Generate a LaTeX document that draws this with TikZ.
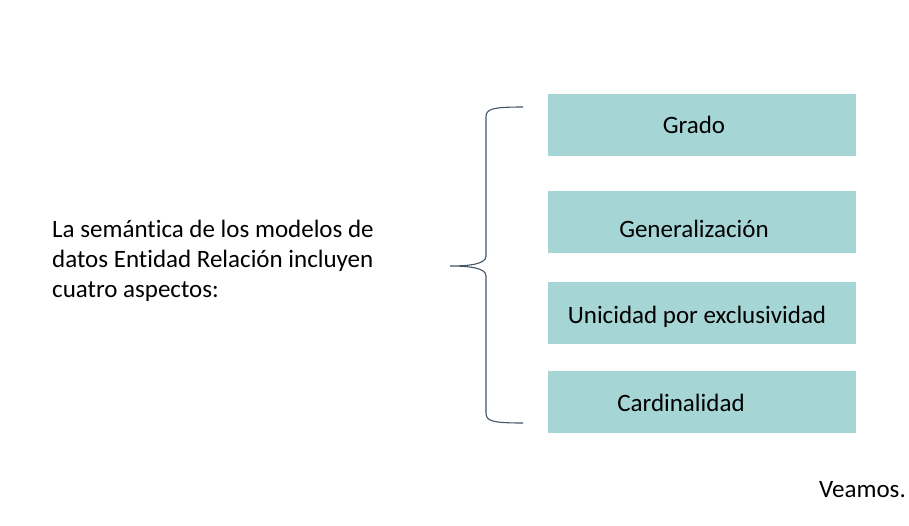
\documentclass[tikz,border=0pt]{standalone}
\usepackage{fontspec}
\setmainfont[Ligatures={NoCommon}]{Carlito}
\definecolor{aqua}{HTML}{A5D5D5}
\definecolor{slate}{HTML}{44546A}
\tikzset{
  aspect/.style={fill=aqua, draw=none, minimum width=308pt, minimum height=62pt, inner sep=0pt},
  label text/.style={font=\fontsize{25}{30}\selectfont, inner sep=0pt}
}
\begin{document}
\begin{tikzpicture}[x=1pt,y=-1pt]
            \useasboundingbox (0,0) rectangle (909,525);
            %boxes
			\node[aspect] (grado) at (702,124.5) {};
			\node[aspect] (gen) at (702,221.5) {};
			\node[aspect] (unic) at (702,313) {};
			\node[aspect] (card) at (702,402) {};

			\node[label text, anchor=base] (gradot) at (694,133) {Grado};
			\node[label text, anchor=base] (gent) at (694,237) {Generalización};
			\node[label text, anchor=base] (unict) at (697,323) {Unicidad por exclusividad};
			\node[label text, anchor=base] (cardt) at (681,411) {Cardinalidad};

            %text
			\node[label text, anchor=base west, align=left] (intro) at (52,297)
			  {La semántica de los modelos de\\datos Entidad Relación incluyen\\cuatro aspectos:};

			\node[label text, anchor=base east] (veamos) at (906,497) {Veamos.};

            %brace
			\coordinate (top) at (523,107);
			\coordinate (tip) at (450,266);
			\coordinate (bot) at (523,423);
			\draw[slate, line width=1.1pt] (top) .. controls (492,107) and (486,109) .. (486,117)
			  -- (486,256) .. controls (486,264) and (470,266) .. (tip)
			  .. controls (470,266) and (486,268) .. (486,276)
			  -- (486,413) .. controls (486,421) and (492,423) .. (bot);
        \end{tikzpicture}
\end{document}
